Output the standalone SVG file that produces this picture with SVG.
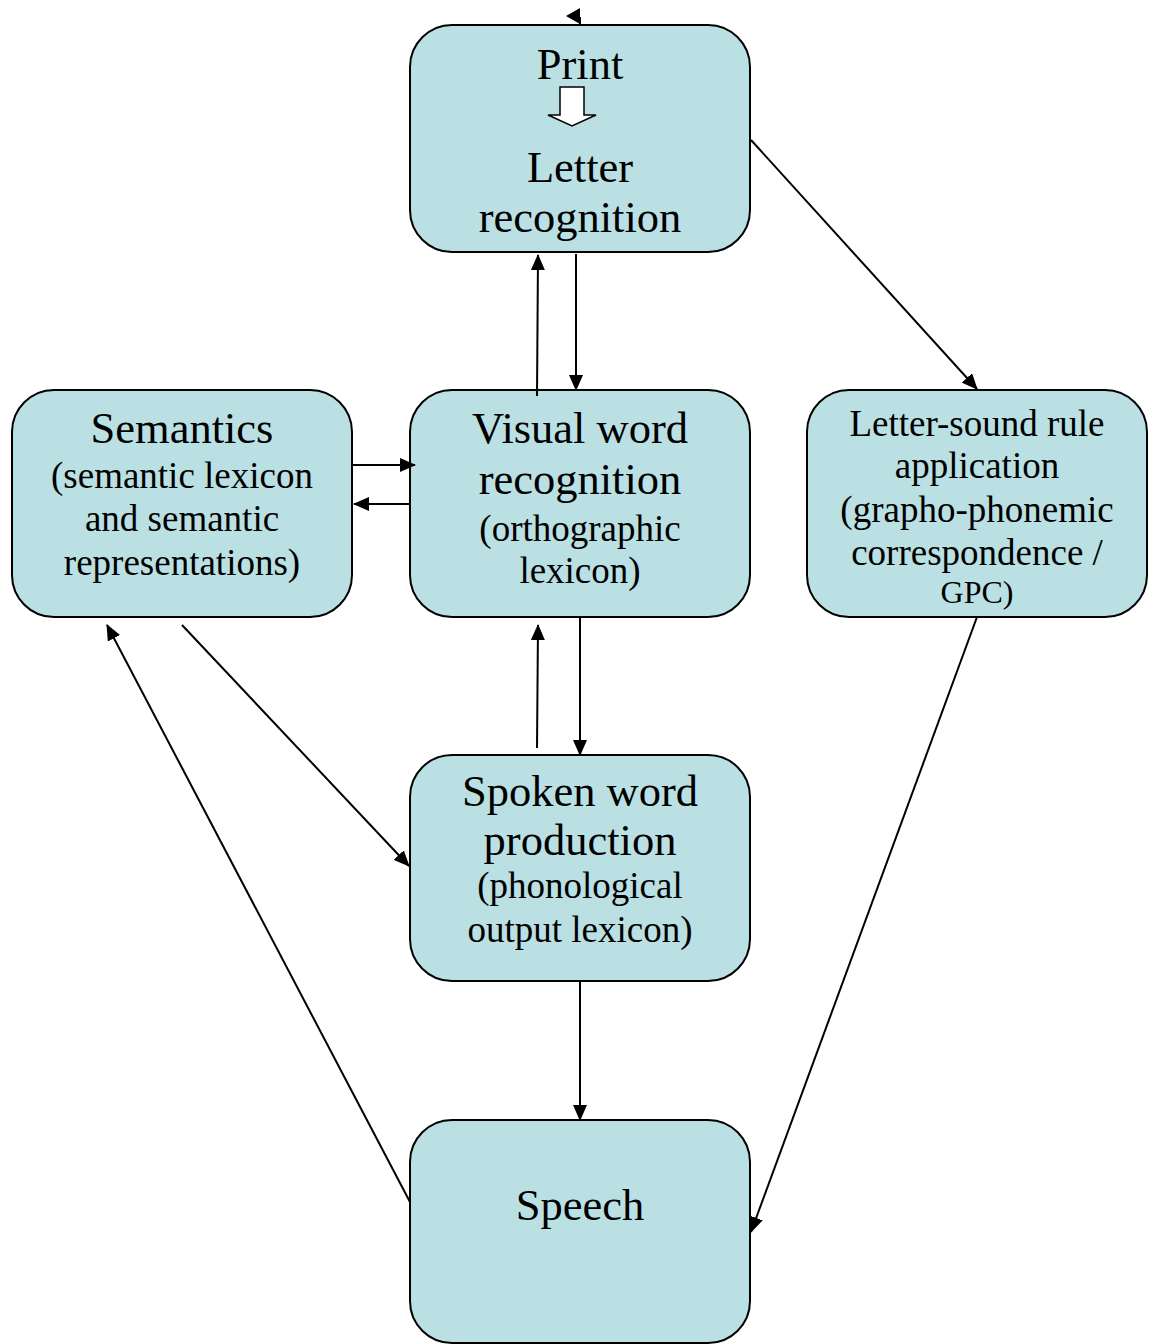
<svg xmlns="http://www.w3.org/2000/svg" width="1157" height="1344" viewBox="0 0 1157 1344">
<style>
.box{fill:#bae0e4;stroke:#000;stroke-width:2}
.t{font-family:"Liberation Serif","Times New Roman",serif;fill:#000;text-anchor:middle}
.big{font-size:44.5px}
.sm{font-size:37px}
.con{stroke:#000;stroke-width:2;fill:none;marker-end:url(#ah)}
</style>
<defs>
<marker id="ah" markerUnits="userSpaceOnUse" markerWidth="16" markerHeight="14" refX="15" refY="7" orient="auto">
<path d="M0,0 L16,7 L0,14 Z" fill="#000"/>
</marker>
</defs>
<rect width="1157" height="1344" fill="#fff"/>
<g id="letter-recognition">
<rect class="box" x="410" y="25" width="340" height="227" rx="42"/>
<text class="t big" x="580" y="79">Print</text>
<path d="M560,87 L584,87 L584,115 L596,115 L572,126 L548,115 L560,115 Z" fill="#fff" stroke="#000" stroke-width="1.5"/>
<text class="t big" x="580" y="182">Letter</text>
<text class="t big" x="580" y="232">recognition</text>
</g>
<g id="semantics">
<rect class="box" x="12" y="390" width="340" height="227" rx="42"/>
<text class="t big" x="182" y="443">Semantics</text>
<text class="t sm" x="182" y="488">(semantic lexicon</text>
<text class="t sm" x="182" y="531">and semantic</text>
<text class="t sm" x="182" y="575">representations)</text>
</g>
<g id="visual-word">
<rect class="box" x="410" y="390" width="340" height="227" rx="42"/>
<text class="t big" x="580" y="443">Visual word</text>
<text class="t big" x="580" y="494">recognition</text>
<text class="t sm" x="580" y="541">(orthographic</text>
<text class="t sm" x="580" y="583">lexicon)</text>
</g>
<g id="letter-sound">
<rect class="box" x="807" y="390" width="340" height="227" rx="42"/>
<text class="t sm" x="977" y="436">Letter-sound rule</text>
<text class="t sm" x="977" y="478">application</text>
<text class="t sm" x="977" y="522">(grapho-phonemic</text>
<text class="t sm" x="977" y="565">correspondence /</text>
<text class="t" style="font-size:32px" x="977" y="603">GPC)</text>
</g>
<g id="spoken-word">
<rect class="box" x="410" y="755" width="340" height="226" rx="42"/>
<text class="t big" x="580" y="806">Spoken word</text>
<text class="t big" x="580" y="855">production</text>
<text class="t sm" x="580" y="898">(phonological</text>
<text class="t sm" x="580" y="942">output lexicon)</text>
</g>
<g id="speech">
<rect class="box" x="410" y="1120" width="340" height="223" rx="42"/>
<text class="t big" x="580" y="1220">Speech</text>
</g>
<g id="connectors">
<line class="con" x1="576" y1="254" x2="576" y2="390"/>
<line class="con" x1="537" y1="396" x2="538" y2="255"/>
<line class="con" x1="751" y1="140" x2="977" y2="389"/>
<line class="con" x1="353" y1="465" x2="415" y2="465"/>
<line class="con" x1="410" y1="504" x2="354" y2="504"/>
<line class="con" x1="580" y1="617" x2="580" y2="755"/>
<line class="con" x1="537" y1="748" x2="538" y2="625"/>
<line class="con" x1="182" y1="625" x2="409" y2="866"/>
<line class="con" x1="410" y1="1202" x2="107" y2="625"/>
<line class="con" x1="977" y1="617" x2="751" y2="1232"/>
<line class="con" x1="580" y1="981" x2="580" y2="1120"/>
<line x1="580" y1="17" x2="580" y2="25" stroke="#000" stroke-width="2"/>
<path d="M580,8 L566,16 L580,24 Z" fill="#000"/>
</g>
</svg>
